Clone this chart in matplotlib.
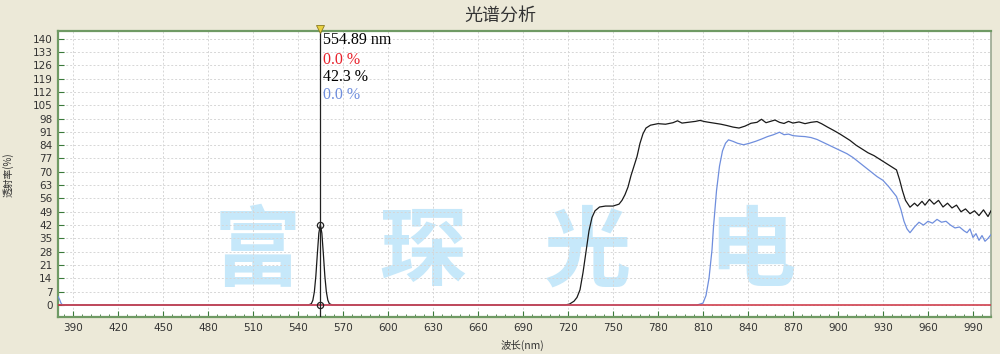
import numpy as np
import matplotlib.pyplot as plt
from matplotlib.ticker import MultipleLocator

plt.rcParams['font.family'] = ['Noto Sans CJK SC', 'DejaVu Sans']

# measured spectra (wavelength nm, transmittance %)
black_nm = [380, 544, 546.9, 548.9, 549.9, 550.9, 551.9, 552.9, 553.9, 554.89, 555.9, 556.9,
            557.9, 558.9, 559.9, 560.9, 562.9, 718, 721, 724, 726, 728, 730, 732, 734, 736,
            738, 741, 745, 750, 754, 756, 758, 760, 762, 764, 766, 768, 770, 772, 775, 780,
            785, 790, 793, 796, 800, 805, 808, 811, 814, 818, 822, 826, 830, 834, 838, 842,
            846, 849, 852, 855, 858, 861, 864, 867, 870, 874, 878, 882, 886, 889, 893, 897,
            901, 905, 908, 912, 916, 920, 924, 928, 932, 936, 939, 941, 943, 945, 948, 951,
            953, 956, 958, 961, 964, 967, 970, 973, 976, 979, 982, 985, 988, 991, 994, 997,
            1000, 1002]
black_val = [0, 0, 0, 0.7, 2.5, 6.9, 15.2, 26.9, 37.8, 42.3, 37.8, 26.9,
             15.2, 6.9, 2.5, 0.7, 0, 0, 0.5, 2, 4, 8, 17, 28, 39, 46,
             49.5, 51.5, 52, 52, 53, 55, 58, 62, 68, 73, 78, 85, 90, 93, 94.5, 95.3,
             95, 95.8, 96.8, 95.6, 96, 96.5, 97, 96.4, 96, 95.5, 95, 94.3, 93.5, 93, 94, 95.5,
             96, 97.6, 95.8, 96.5, 97.2, 96, 95.4, 96.5, 95.6, 96.2, 95.3, 96, 96.4, 95.3, 93.5, 91.8,
             90, 88, 86.5, 84, 82, 80, 78.5, 76.5, 74.5, 72.5, 71, 66, 60, 55, 51.4, 53.5,
             52, 54.5, 52.5, 55.5, 53, 55, 51.5, 53.5, 51, 52.5, 49, 50.5, 48, 49.5, 47, 50,
             46.5, 49.5]

blue_nm = [380, 381, 382, 383, 806, 808, 810, 812, 814, 816, 817, 819, 821, 823, 825, 827,
           830, 833, 837, 841, 845, 849, 853, 857, 861, 864, 867, 870, 874, 878, 882, 886,
           890, 894, 898, 902, 906, 910, 914, 918, 922, 926, 930, 934, 937, 939, 942, 944,
           946, 948, 951, 954, 957, 960, 963, 966, 969, 972, 975, 978, 981, 984, 986, 988,
           990, 992, 994, 996, 998, 1000, 1002]
blue_val = [4.5, 3, 1, 0, 0, 0.5, 1, 5, 14, 29, 41, 60, 73, 81, 85, 86.8,
            86, 85, 84.2, 85, 86, 87.2, 88.5, 89.5, 90.8, 89.5, 89.8, 89, 88.7, 88.5, 88, 87,
            85.5, 84, 82.5, 81, 79.5, 77.5, 75, 72.5, 70, 67.5, 65.5, 62, 59, 57, 50, 44,
            40, 38, 41, 43.5, 42, 44, 43, 45, 43.5, 44, 42, 40.5, 41, 39, 38, 40,
            35.5, 37.5, 34, 36.5, 33.5, 35, 37]

red_nm = [380, 1002]
red_val = [0, 0]

cursor_nm = 554.89
cursor_vals = [42.3, 0.0]
readouts = ["554.89 nm", "0.0 %", "42.3 %", "0.0 %"]
readout_colors = ['black', '#E8202A', 'black', '#6F8EDD']

watermark = ["富", "琛", "光", "电"]
watermark_nm = [512.7, 623.3, 733.3, 842.7]

fig = plt.figure(figsize=(10, 3.54), dpi=100, facecolor='#ECE9D8')
ax = fig.add_axes([0.058, 0.1045, 0.933, 0.808])
ax.set_facecolor('white')

for s, txt in zip(watermark_nm, watermark):
    ax.text(s, 27, txt, fontsize=63, fontweight='bold', color='#C6E8FA',
            ha='center', va='center', zorder=0)

ax.plot(black_nm, black_val, color='#1a1a1a', lw=0.9, zorder=3)
ax.plot(blue_nm, blue_val, color='#6F8EDD', lw=0.9, zorder=3)
ax.plot(red_nm, red_val, color='#D0404E', lw=1.2, zorder=4)

# cursor
ax.axvline(cursor_nm, color='#222222', lw=0.9, zorder=5)
ax.plot([cursor_nm] * 2, cursor_vals, 'o', ms=4.5, mfc='none', mec='#222222', mew=0.9, zorder=6)
ax.plot([cursor_nm], [145.3], 'v', ms=6, color='#E8D040', mec='#8a7a20', mew=0.6,
        clip_on=False, zorder=6)
for i, (txt, c) in enumerate(zip(readouts, readout_colors)):
    ax.text(cursor_nm + 1.6, [139, 128.7, 119.7, 110.2][i], txt, color=c,
            family='Liberation Serif', fontsize=11.5, va='center', ha='left')

ax.set_xlim(380, 1002)
ax.set_ylim(-6.3, 144)
ax.set_xticks(np.arange(390, 1000, 30))
ax.set_yticks(np.arange(0, 141, 7))
ax.xaxis.set_minor_locator(MultipleLocator(6))
ax.tick_params(axis='both', which='major', direction='in', length=4, width=0.8,
               color='#3a7a3a', labelsize=7.5, labelcolor='#333333', pad=4)
ax.tick_params(axis='x', which='minor', direction='in', length=2, width=0.6, color='#3a7a3a')
ax.grid(True, which='major', color='#d6d6d6', linestyle=(0, (2, 2)), lw=0.7)
ax.set_axisbelow(True)
for sp in ax.spines.values():
    sp.set_color('#6f9a64')
    sp.set_linewidth(1.6)
ax.spines['right'].set_color('#9aa890')
ax.spines['right'].set_linewidth(1.2)
for lab in ax.get_xticklabels() + ax.get_yticklabels():
    lab.set_family('DejaVu Sans')

fig.text(0.5, 0.955, "光谱分析", ha='center', va='center', fontsize=13, color='#333333')
fig.text(0.008, 0.506, "透射率(%)", rotation=90, ha='center', va='center', fontsize=7,
         color='#333333')
fig.text(0.522, 0.025, "波长(nm)", ha='center', va='center', fontsize=7.5, color='#333333')

fig.savefig('out.png', dpi=100, facecolor=fig.get_facecolor())
